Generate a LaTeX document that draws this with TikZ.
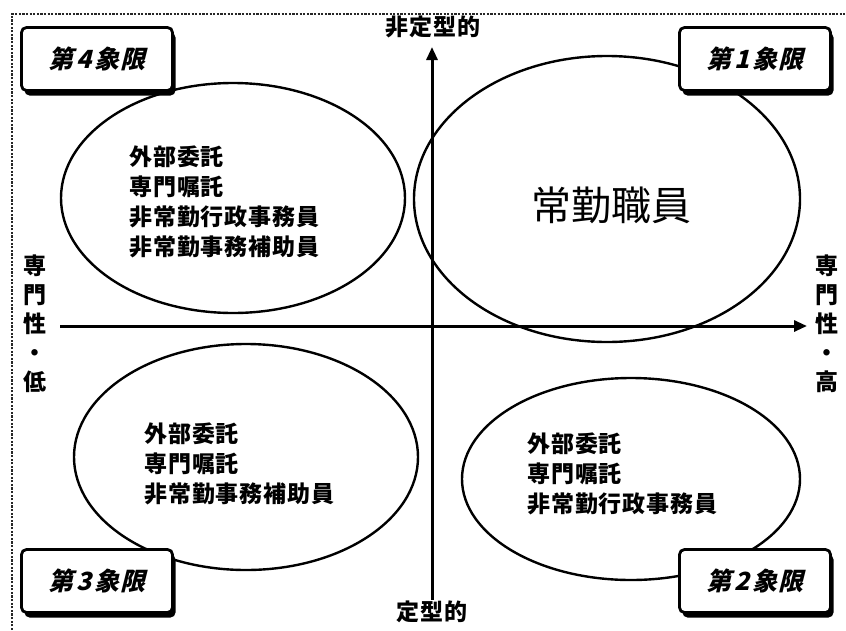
\documentclass[tikz,border=0pt]{standalone}
\usepackage{fontspec}
\setmainfont{Noto Sans CJK JP}
\newfontfamily\listfont[LetterSpace=4]{Noto Sans CJK JP}
\newfontfamily\boxfont[FakeSlant=0.25,LetterSpace=6]{Noto Sans CJK JP}
\usetikzlibrary{shapes.geometric,arrows.meta,shadows}
\begin{document}
\begin{tikzpicture}[x=1pt,y=-1pt,
  ell/.style={draw, ellipse, line width=2.4pt, inner sep=0pt},
  qbox/.style={draw, line width=2.8pt, fill=white, rounded corners=5pt,
    minimum width=151pt, minimum height=63pt, inner sep=0pt,
    font=\boxfont\bfseries\fontsize{25}{26}\selectfont,
    drop shadow={shadow xshift=3pt, shadow yshift=-5pt, fill=black, opacity=1}},
  items/.style={align=left, anchor=west, inner sep=0pt,
    font=\listfont\bfseries\fontsize{23}{30}\selectfont},
  axlab/.style={inner sep=0pt, font=\listfont\bfseries\fontsize{23}{29}\selectfont, align=center},
  axis/.style={line width=3pt, -{Triangle[length=13pt,width=11pt]}},
  frame/.style={line width=2pt, black!85, dash pattern=on 2.2pt off 1.4pt}
]
\useasboundingbox (0,0) rectangle (846,630);
\fill[white] (0,0) rectangle (846,630);
% frame
\coordinate (f0) at (12,14);
\coordinate (f1) at (846,14);
\coordinate (f2) at (12,630);
\draw[frame] (f2) -- (f0) -- (f1);

% axes
\coordinate (ha) at (60,326);
\coordinate (hb) at (807,326);
\coordinate (va) at (432,600);
\coordinate (vb) at (432,47);
\draw[axis] (ha) -- (hb);
\draw[axis] (va) -- (vb);

% ellipses
\node[ell, minimum width=386pt, minimum height=286pt] (q1e) at (607,199) {};
\node[ell, minimum width=344pt, minimum height=230pt] (q4e) at (233,198) {};
\node[ell, minimum width=344pt, minimum height=226pt] (q3e) at (246,457) {};
\node[ell, minimum width=338pt, minimum height=202pt] (q2e) at (631,479) {};

% texts in ellipses
\node[inner sep=0pt, font=\fontsize{40}{44}\selectfont] (t1) at (611,205) {常勤職員};
\node[items] (t4) at (129,202) {外部委託\\専門嘱託\\非常勤行政事務員\\非常勤事務補助員};
\node[items] (t3) at (144,464) {外部委託\\専門嘱託\\非常勤事務補助員};
\node[items] (t2) at (527,474) {外部委託\\専門嘱託\\非常勤行政事務員};

% axis labels
\node[axlab] (top) at (433,27) {非定型的};
\node[axlab] (bot) at (432,612) {定型的};
\node[axlab] (left) at (35,324) {専\\門\\性\\・\\低};
\node[axlab] (right) at (827,324) {専\\門\\性\\・\\高};

% quadrant boxes
\node[qbox] (b4) at (97,59) {第\hspace{3pt}4\hspace{3pt}象限};
\node[qbox] (b1) at (755,59) {第\hspace{3pt}1\hspace{3pt}象限};
\node[qbox] (b3) at (97,581) {第\hspace{3pt}3\hspace{3pt}象限};
\node[qbox] (b2) at (755,581) {第\hspace{3pt}2\hspace{3pt}象限};
\end{tikzpicture}
\end{document}
